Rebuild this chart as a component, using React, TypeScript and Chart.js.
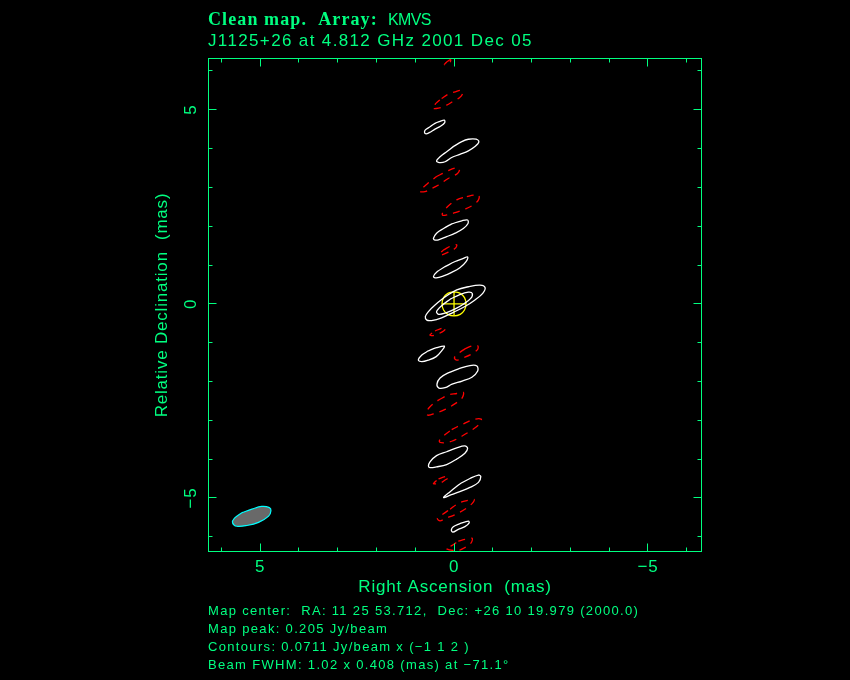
import React, { useEffect, useRef } from "react";
import { Chart, registerables } from "chart.js";

Chart.register(...registerables);

type P = [number, number];

const GREEN = "#00ff80";
const headerBold = "Clean map.  Array:";
const headerArray = "KMVS";
const headerSource = "J1125+26 at 4.812 GHz 2001 Dec 05";
const footerLines = [
  "Map center:  RA: 11 25 53.712,  Dec: +26 10 19.979 (2000.0)",
  "Map peak: 0.205 Jy/beam",
  "Contours: 0.0711 Jy/beam x (\u22121 1 2 )",
  "Beam FWHM: 1.02 x 0.408 (mas) at \u221271.1\u00b0",
];

const xRange: P = [-6.38, 6.33];
const yRange: P = [-6.38, 6.32];
const labelledTicks = [-5, 0, 5];

const negA: P[] = [[0.25,6.16],[0.19,6.23],[0.09,6.29],[0.10,6.23],[0.17,6.18]];
const negB: P[] = [[0.56,5.04],[0.46,5.17],[0.32,5.29],[0.15,5.40],[-0.03,5.46],[-0.20,5.50],[-0.22,5.41],[-0.14,5.31],[0.02,5.22],[0.19,5.12],[0.40,5.04]];
const negE: P[] = [[0.88,2.90],[0.70,3.08],[0.45,3.28],[0.19,3.41],[-0.03,3.50],[-0.14,3.47],[-0.09,3.36],[0.15,3.23],[0.40,3.06],[0.62,2.95],[0.75,2.89]];
const negF: P[] = [[0.30,2.33],[0.15,2.52],[-0.07,2.68],[-0.33,2.76],[-0.50,2.80],[-0.64,2.79],[-0.63,2.68],[-0.50,2.55],[-0.28,2.44],[-0.03,2.35],[0.19,2.29],[0.29,2.28]];
const negH: P[] = [[0.38,1.27],[0.27,1.39],[0.06,1.50],[-0.07,1.52],[-0.03,1.43],[0.15,1.33],[0.32,1.26]];
const negL: P[] = [[0.62,-0.80],[0.49,-0.70],[0.32,-0.63],[0.21,-0.62],[0.27,-0.70],[0.40,-0.77],[0.56,-0.82]];
const negN: P[] = [[-0.01,-1.39],[-0.11,-1.28],[-0.28,-1.16],[-0.48,-1.08],[-0.61,-1.08],[-0.61,-1.17],[-0.46,-1.29],[-0.24,-1.39],[-0.07,-1.45]];
const negP: P[] = [[0.72,-2.82],[0.62,-2.65],[0.40,-2.48],[0.15,-2.35],[-0.07,-2.31],[-0.24,-2.28],[-0.21,-2.42],[-0.03,-2.57],[0.23,-2.72],[0.49,-2.82],[0.66,-2.87]];
const negQ: P[] = [[0.38,-3.54],[0.27,-3.40],[0.06,-3.24],[-0.20,-3.11],[-0.50,-2.98],[-0.70,-2.97],[-0.67,-3.08],[-0.46,-3.25],[-0.20,-3.41],[0.06,-3.54],[0.27,-3.58]];
const negS: P[] = [[0.53,-4.63],[0.40,-4.51],[0.23,-4.45],[0.13,-4.46],[0.23,-4.54],[0.38,-4.63],[0.49,-4.64]];
const negU: P[] = [[0.43,-5.53],[0.32,-5.44],[0.10,-5.29],[-0.11,-5.14],[-0.37,-5.06],[-0.52,-5.04],[-0.47,-5.14],[-0.28,-5.29],[-0.03,-5.43],[0.23,-5.53],[0.36,-5.59]];
const negW: P[] = [[0.21,-6.30],[0.06,-6.23],[-0.11,-6.11],[-0.33,-6.06],[-0.47,-6.04],[-0.43,-6.17],[-0.24,-6.30],[-0.07,-6.36]];

const posC: P[] = [[0.76,4.41],[0.74,4.48],[0.62,4.56],[0.49,4.65],[0.36,4.70],[0.25,4.73],[0.24,4.67],[0.34,4.58],[0.49,4.50],[0.64,4.41],[0.72,4.38]];
const posD: P[] = [[0.45,3.68],[0.36,3.79],[0.19,3.92],[0.02,4.05],[-0.20,4.18],[-0.37,4.24],[-0.57,4.24],[-0.64,4.17],[-0.54,4.05],[-0.37,3.94],[-0.15,3.85],[0.06,3.77],[0.23,3.66],[0.38,3.64]];
const posG: P[] = [[0.53,1.69],[0.45,1.82],[0.27,1.94],[0.06,2.06],[-0.20,2.14],[-0.35,2.16],[-0.36,2.07],[-0.24,1.94],[-0.03,1.82],[0.19,1.73],[0.40,1.65],[0.51,1.65]];
const posI: P[] = [[0.53,0.70],[0.43,0.83],[0.23,0.96],[-0.03,1.09],[-0.24,1.17],[-0.35,1.21],[-0.31,1.09],[-0.15,0.93],[0.06,0.81],[0.27,0.72],[0.46,0.67]];
const posJ: P[] = [[0.74,-0.33],[0.66,-0.20],[0.49,-0.03],[0.23,0.18],[-0.07,0.36],[-0.37,0.44],[-0.67,0.48],[-0.80,0.42],[-0.74,0.27],[-0.54,0.10],[-0.28,-0.07],[0.02,-0.22],[0.32,-0.36],[0.58,-0.43],[0.70,-0.42]];
const posK: P[] = [[0.45,-0.20],[0.32,-0.05],[0.10,0.12],[-0.15,0.24],[-0.37,0.30],[-0.47,0.27],[-0.43,0.14],[-0.24,-0.01],[-0.03,-0.13],[0.23,-0.24],[0.40,-0.27]];
const posM: P[] = [[0.92,-1.45],[0.83,-1.32],[0.66,-1.21],[0.45,-1.13],[0.25,-1.09],[0.32,-1.21],[0.46,-1.36],[0.66,-1.45],[0.83,-1.49]];
const posO: P[] = [[0.44,-2.07],[0.36,-1.91],[0.15,-1.78],[-0.10,-1.68],[-0.41,-1.59],[-0.59,-1.60],[-0.61,-1.73],[-0.46,-1.89],[-0.21,-1.99],[0.05,-2.07],[0.23,-2.16],[0.39,-2.17]];
const posR: P[] = [[0.66,-4.18],[0.62,-4.07],[0.45,-3.91],[0.19,-3.81],[-0.07,-3.71],[-0.28,-3.66],[-0.35,-3.72],[-0.28,-3.85],[-0.07,-4.00],[0.19,-4.14],[0.45,-4.20],[0.62,-4.22]];
const posT: P[] = [[0.27,-4.99],[0.10,-4.84],[-0.15,-4.64],[-0.41,-4.50],[-0.63,-4.41],[-0.69,-4.45],[-0.63,-4.60],[-0.41,-4.73],[-0.15,-4.84],[0.10,-4.93]];
const posV: P[] = [[0.07,-5.83],[0.02,-5.74],[-0.15,-5.66],[-0.37,-5.60],[-0.39,-5.64],[-0.28,-5.74],[-0.11,-5.81],[0.03,-5.88]];

const beam: P[] = [[5.71,-5.64],[5.66,-5.52],[5.47,-5.38],[5.21,-5.29],[4.96,-5.22],[4.76,-5.25],[4.72,-5.33],[4.78,-5.47],[5.04,-5.63],[5.34,-5.71],[5.60,-5.73]];

const modelRing: P[] = [[0.31,0],[0.27,0.16],[0.16,0.27],[0,0.31],[-0.16,0.27],[-0.27,0.16],[-0.31,0],[-0.27,-0.16],[-0.16,-0.27],[0,-0.31],[0.16,-0.27],[0.27,-0.16]];
const modelCrossH: P[] = [[0.31,0],[-0.31,0]];
const modelCrossV: P[] = [[0,0.31],[0,-0.31]];

const negative = [negA, negB, negE, negF, negH, negL, negN, negP, negQ, negS, negU, negW];
const positive = [posC, posD, posG, posI, posJ, posK, posM, posO, posR, posT, posV];

// Start each loop part-way along a long side, so that the join of the smoothed line does not show.
const closed = (pts: P[]) => {
  const s = Math.floor(pts.length / 4);
  const loop = [...pts.slice(s), ...pts.slice(0, s + 1)];
  return loop.map(([x, y]) => ({ x, y }));
};
const open = (pts: P[]) => pts.map(([x, y]) => ({ x, y }));

const base = { showLine: true, pointRadius: 0, pointHoverRadius: 0, fill: false };

const framePlugin = {
  id: "frame",
  beforeDraw(chart: any) {
    chart.ctx.letterSpacing = "0.8px";
  },
  afterDatasetsDraw(chart: any) {
    const { ctx, scales } = chart;
    const l = 208.5, r = 701.5, t = 58.5, b = 551.5;
    ctx.save();
    ctx.strokeStyle = GREEN;
    ctx.lineWidth = 1;
    ctx.strokeRect(l, t, r - l, b - t);
    ctx.beginPath();
    for (const tick of scales.x.ticks) {
      const px = Math.floor(scales.x.getPixelForValue(tick.value)) + 0.5;
      const len = tick.value % 5 === 0 ? 8 : 4;
      ctx.moveTo(px, t); ctx.lineTo(px, t + len);
      ctx.moveTo(px, b); ctx.lineTo(px, b - len);
    }
    for (const tick of scales.y.ticks) {
      const py = Math.floor(scales.y.getPixelForValue(tick.value)) + 0.5;
      const len = tick.value % 5 === 0 ? 8 : 4;
      ctx.moveTo(l, py); ctx.lineTo(l + len, py);
      ctx.moveTo(r, py); ctx.lineTo(r - len, py);
    }
    ctx.stroke();

    ctx.fillStyle = GREEN;
    ctx.textAlign = "left";
    ctx.textBaseline = "alphabetic";
    ctx.font = "bold 18px 'Liberation Serif'";
    ctx.letterSpacing = "1.1px";
    ctx.fillText(headerBold, 208, 25);
    ctx.font = "16px 'Liberation Sans'";
    ctx.letterSpacing = "-0.6px";
    ctx.fillText(headerArray, 388, 25);
    ctx.font = "17px 'Liberation Sans'";
    ctx.letterSpacing = "1.36px";
    ctx.fillText(headerSource, 208, 46);
    ctx.font = "13px 'Liberation Sans'";
    ctx.letterSpacing = "1.33px";
    const ys = [615, 633, 651, 669];
    footerLines.forEach((line, i) => ctx.fillText(line, 208, ys[i]));
    ctx.letterSpacing = "0px";
    ctx.restore();
  },
};

export default function App() {
  const ref = useRef<HTMLCanvasElement>(null);
  useEffect(() => {
    document.body.style.margin = "0";
    document.body.style.background = "#000";
    const tickLabel = (v: any) =>
      labelledTicks.includes(Number(v)) ? (Number(v) < 0 ? "\u2212" + Math.abs(Number(v)) : String(v)) : "";
    const font = { family: "'Liberation Sans'", size: 17 };
    const chart = new Chart(ref.current as HTMLCanvasElement, {
      type: "scatter",
      data: {
        datasets: [
          { ...base, data: closed(beam), fill: "shape", backgroundColor: "#696969", borderColor: "#00ffff", borderWidth: 1.2, tension: 0.35 },
          ...negative.map((c) => ({ ...base, data: closed(c), borderColor: "#ff0000", borderWidth: 1.3, borderDash: [7, 6], tension: 0.35 })),
          ...positive.map((c) => ({ ...base, data: closed(c), borderColor: "#ffffff", borderWidth: 1.3, tension: 0.35 })),
          { ...base, data: closed(modelRing), borderColor: "#ffff00", borderWidth: 1.3, tension: 0.35 },
          { ...base, data: open(modelCrossH), borderColor: "#ffff00", borderWidth: 1.3 },
          { ...base, data: open(modelCrossV), borderColor: "#ffff00", borderWidth: 1.3 },
        ],
      } as any,
      options: {
        responsive: false,
        animation: false,
        layout: { padding: { left: 0, top: 58.5, right: 148.5, bottom: 0 } },
        plugins: { legend: { display: false }, tooltip: { enabled: false }, title: { display: false } },
        scales: {
          x: {
            type: "linear",
            reverse: true,
            min: xRange[0],
            max: xRange[1],
            afterFit: (s: any) => { s.height = 128.5; },
            grid: { display: false, drawTicks: false },
            border: { display: false },
            ticks: { stepSize: 1, includeBounds: false, autoSkip: false, maxRotation: 0, minRotation: 0, padding: 6, color: GREEN, font, callback: tickLabel },
            title: { display: true, text: "Right Ascension  (mas)", color: GREEN, font, padding: { top: 0, bottom: 82 } },
          },
          y: {
            type: "linear",
            min: yRange[0],
            max: yRange[1],
            afterFit: (s: any) => { s.width = 208.5; },
            grid: { display: false, drawTicks: false },
            border: { display: false },
            ticks: { stepSize: 1, includeBounds: false, autoSkip: false, minRotation: 90, maxRotation: 90, crossAlign: "center", padding: 7, color: GREEN, font, callback: tickLabel },
            title: { display: true, text: "Relative Declination  (mas)", color: GREEN, font, padding: { top: 152, bottom: 0 } },
          },
        },
      } as any,
      plugins: [framePlugin],
    });
    return () => chart.destroy();
  }, []);
  return (
    <div style={{ position: "fixed", left: 0, top: 0, width: 850, height: 680, background: "#000" }}>
      <canvas ref={ref} width={850} height={680} style={{ display: "block", width: 850, height: 680 }} />
    </div>
  );
}
